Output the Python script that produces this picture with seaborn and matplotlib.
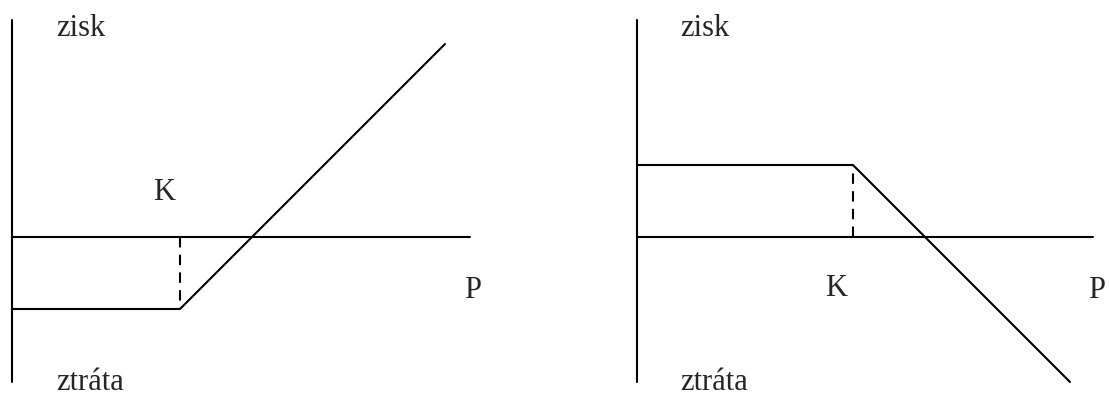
import seaborn as sns
import matplotlib.pyplot as plt

# long call (left) and short call (right) payoff sketches, units ~ pixels
call_long_price = [0, 168, 433]
call_long_profit = [-72, -72, 193]
call_short_price = [0, 216, 433]
call_short_profit = [72, 72, -145]

strike_long = 168
strike_short = 216
premium = 72

axis_len = [458, 456]
vert_top = 217
vert_bottom = -145

labels_top = "zisk"
labels_bottom = "ztráta"
label_strike = "K"
label_price = "P"

sns.set_theme(style="white")
plt.rcParams["font.family"] = ["Liberation Serif", "DejaVu Serif"]

fig = plt.figure(figsize=(11.09, 4), dpi=100)
ax1 = fig.add_axes([0, 0, 0.5, 1])
ax2 = fig.add_axes([0.5, 0, 0.5, 1])

lw = 1.5
for ax, xs, ys, K, k_y, axlen, xlim in [
    (ax1, call_long_price, call_long_profit, strike_long, -premium, axis_len[0], (-12, 542.5)),
    (ax2, call_short_price, call_short_profit, strike_short, premium, axis_len[1], (-82.5, 472)),
]:
    # axes
    ax.plot([0, 0], [vert_top, vert_bottom], color="black", lw=lw)
    ax.plot([0, axlen], [0, 0], color="black", lw=lw)
    # payoff
    sns.lineplot(x=xs, y=ys, ax=ax, color="black", lw=lw, sort=False, estimator=None)
    # strike marker
    ax.plot([K, K], [0, k_y], color="black", lw=lw, linestyle=(0, (5, 3.5)))
    ax.set_xlim(*xlim)
    ax.set_ylim(-163, 237)
    ax.axis("off")

fs = 22
ax1.text(44, 209, labels_top, fontsize=fs, ha="left", va="center")
ax1.text(44, -145, labels_bottom, fontsize=fs, ha="left", va="center")
ax1.text(152, 44, label_strike, fontsize=fs, ha="center", va="center")
ax1.text(461, -53, label_price, fontsize=fs, ha="center", va="center")

ax2.text(43, 209, labels_top, fontsize=fs, ha="left", va="center")
ax2.text(43, -145, labels_bottom, fontsize=fs, ha="left", va="center")
ax2.text(199, -52, label_strike, fontsize=fs, ha="center", va="center")
ax2.text(460, -53, label_price, fontsize=fs, ha="center", va="center")

fig.savefig("out.png", dpi=100)
